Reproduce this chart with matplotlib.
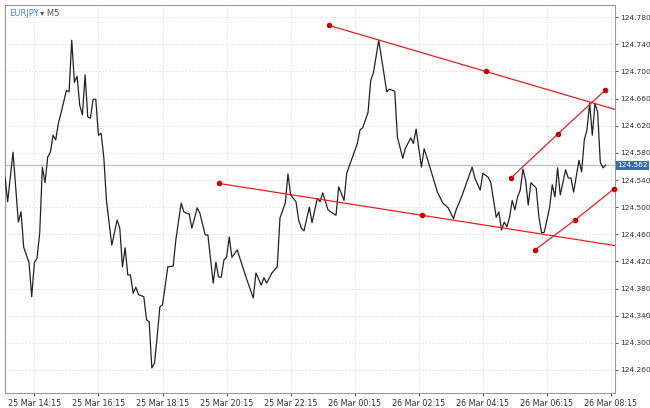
import numpy as np
import matplotlib.pyplot as plt

# EURJPY M5 close prices (vertices), x = bar index
bars = [0, 1, 3, 5, 6, 7, 9, 10, 11, 12, 13, 14, 15, 16, 17, 18, 19, 20, 21, 23,
        24, 25, 26, 27, 28, 29, 30, 31, 32, 33, 34, 35, 36, 37, 38, 40, 42, 43, 44, 45,
        46, 47, 48, 49, 50, 52, 53, 54, 55, 56, 57, 58, 59, 61, 63, 64, 66, 67, 68, 69,
        70, 72, 73, 75, 76, 78, 79, 80, 81, 82, 83, 84, 85, 87, 90, 93, 94, 96, 97, 98,
        100, 102, 103, 105, 106, 107, 109, 110, 111, 112, 114, 115, 117, 118, 119, 121, 122, 124, 125, 127,
        128, 130, 132, 133, 134, 136, 137, 138, 140, 141, 143, 144, 146, 147, 149, 150, 152, 153, 154, 156,
        157, 158, 162, 164, 166, 168, 169, 171, 173, 175, 176, 178, 179, 181, 182, 184, 185, 186, 187, 188,
        189, 190, 191, 192, 193, 194, 195, 196, 197, 199, 200, 201, 202, 204, 205, 206, 207, 208, 210, 211,
        212, 213, 215, 216, 217, 218, 219, 220, 221, 222, 223, 224, 225]
prices = [124.544, 124.508, 124.581, 124.478, 124.493, 124.441, 124.418, 124.368, 124.418, 124.425,
          124.462, 124.559, 124.536, 124.574, 124.581, 124.606, 124.599, 124.624, 124.639, 124.672,
          124.670, 124.746, 124.684, 124.693, 124.650, 124.636, 124.695, 124.633, 124.631, 124.659,
          124.659, 124.606, 124.609, 124.574, 124.510, 124.444, 124.481, 124.469, 124.412, 124.440,
          124.400, 124.400, 124.373, 124.382, 124.371, 124.368, 124.334, 124.331, 124.263, 124.270,
          124.309, 124.353, 124.356, 124.412, 124.413, 124.452, 124.506, 124.493, 124.491, 124.490,
          124.469, 124.499, 124.491, 124.459, 124.459, 124.388, 124.419, 124.397, 124.397, 124.422,
          124.426, 124.456, 124.426, 124.437, 124.400, 124.366, 124.403, 124.385, 124.396, 124.388,
          124.403, 124.412, 124.484, 124.506, 124.549, 124.518, 124.508, 124.481, 124.469, 124.465,
          124.500, 124.477, 124.513, 124.508, 124.521, 124.496, 124.493, 124.488, 124.530, 124.510,
          124.550, 124.572, 124.594, 124.614, 124.617, 124.640, 124.687, 124.698, 124.746, 124.721,
          124.670, 124.674, 124.671, 124.603, 124.572, 124.587, 124.602, 124.594, 124.615, 124.559,
          124.586, 124.574, 124.522, 124.506, 124.499, 124.483, 124.496, 124.515, 124.537, 124.559,
          124.543, 124.525, 124.550, 124.544, 124.536, 124.485, 124.493, 124.466, 124.478, 124.471,
          124.485, 124.510, 124.496, 124.515, 124.525, 124.556, 124.540, 124.503, 124.536, 124.528,
          124.485, 124.462, 124.463, 124.499, 124.533, 124.515, 124.558, 124.518, 124.555, 124.543,
          124.543, 124.522, 124.569, 124.552, 124.599, 124.614, 124.653, 124.606, 124.653, 124.640,
          124.566, 124.558, 124.562]
last_price = 124.562

# trend lines: anchor points (bar, price)
ray_upper = [(121.3, 124.768), (180.1, 124.700)]
ray_lower = [(80.1, 124.535), (156.2, 124.488)]
seg_up1 = [(189.5, 124.543), (207.1, 124.608), (224.7, 124.672)]
seg_up2 = [(198.5, 124.437), (213.5, 124.481), (228.1, 124.527)]

tick_bars = [11 + 24 * k for k in range(10)]
tick_labels = ['25 Mar 14:15', '25 Mar 16:15', '25 Mar 18:15', '25 Mar 20:15', '25 Mar 22:15',
               '26 Mar 00:15', '26 Mar 02:15', '26 Mar 04:15', '26 Mar 06:15', '26 Mar 08:15']
y_ticks = np.arange(124.260, 124.781, 0.040)

red = '#e8201e'
xmax = 228.5

fig = plt.figure(figsize=(6.5, 4.08), dpi=100)
ax = fig.add_axes([5/650, 15/408, 610/650, 388/408])
ax.set_xlim(0, xmax)
ax.set_ylim(124.226, 124.798)

ax.axhline(last_price, color='#b8c8d8', lw=1, zorder=1)
ax.plot(bars, prices, color='#222222', lw=0.9, zorder=3)

for pts in [ray_upper, ray_lower]:
    (x0, y0), (x1, y1) = pts
    slope = (y1 - y0) / (x1 - x0)
    ax.plot([x0, xmax], [y0, y0 + slope * (xmax - x0)], color=red, lw=0.9, zorder=4)
    ax.plot([x0, x1], [y0, y1], 'o', color='#cc0000', ms=3, zorder=5)
for pts in [seg_up1, seg_up2]:
    xs = [p[0] for p in pts]
    ys = [p[1] for p in pts]
    ax.plot(xs, ys, color=red, lw=0.9, zorder=4)
    ax.plot(xs, ys, 'o', color='#cc0000', ms=3, zorder=5, clip_on=False)

ax.set_xticks(tick_bars)
ax.set_xticklabels(tick_labels)
ax.set_yticks(y_ticks)
ax.set_yticklabels([f'{v:.3f}' for v in y_ticks])
ax.yaxis.tick_right()
ax.tick_params(labelsize=5.8, colors='#333333', length=2.5, width=0.6, pad=1.5)
ax.tick_params(axis='y', labelsize=5.4, pad=1)
ax.grid(True, color='#dddddd', ls=(0, (2, 2)), lw=0.6)
for s in ax.spines.values():
    s.set_color('#999999')
    s.set_linewidth(0.8)

ax.annotate(f'{last_price:.3f}', xy=(1, last_price), xycoords=('axes fraction', 'data'),
            xytext=(1.5, 0), textcoords='offset points', va='center', ha='left',
            fontsize=5.4, color='white',
            bbox=dict(boxstyle='square,pad=0.2', fc='#3b6ea5', ec='none'))

ax.text(0.006, 0.99, 'EURJPY', transform=ax.transAxes, fontsize=6, color='#3a8ee6',
        va='top', ha='left')
ax.text(0.057, 0.99, '\u25be M5', transform=ax.transAxes, fontsize=6, color='#555555',
        va='top', ha='left')

fig.savefig('out.png', dpi=100)
